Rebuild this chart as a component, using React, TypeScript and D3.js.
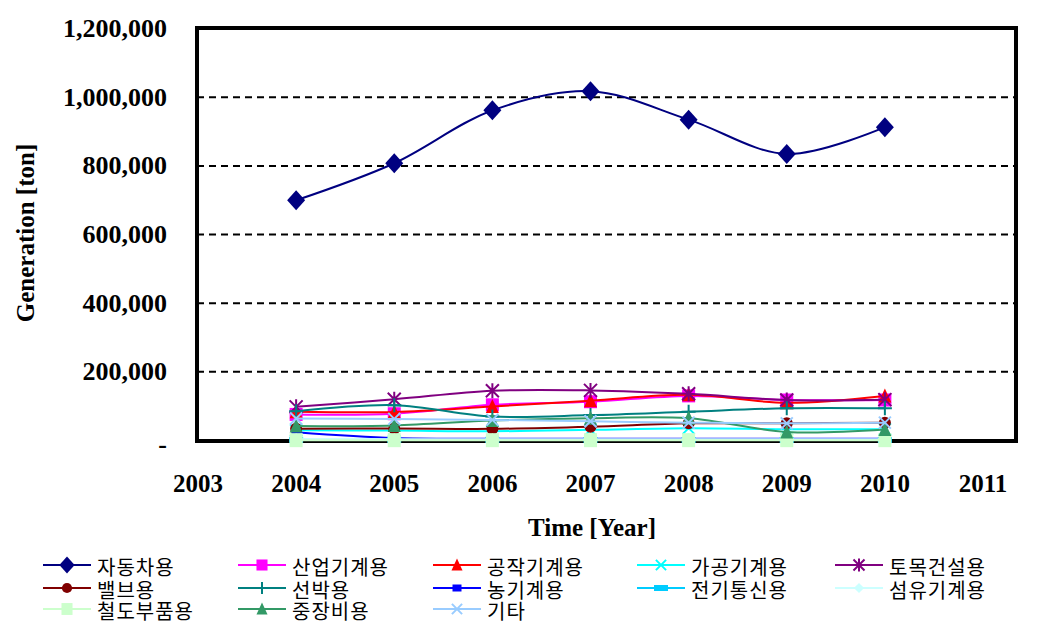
import React, { useEffect } from "react";
import * as d3 from "d3";

const years = [2004, 2005, 2006, 2007, 2008, 2009, 2010];
const xTicks = [2003, 2004, 2005, 2006, 2007, 2008, 2009, 2010, 2011];
const yTicks = [0, 200000, 400000, 600000, 800000, 1000000, 1200000];
const yTickLabels = ["-", "200,000", "400,000", "600,000", "800,000", "1,000,000", "1,200,000"];

const automotive = [700000, 808000, 962000, 1018000, 935000, 835000, 913000];
const industrialMachinery = [76000, 78000, 104000, 113000, 130000, 118000, 118000];
const machineTools = [84000, 83000, 99000, 116000, 133000, 110000, 130000];
const processingMachinery = [30000, 29000, 27000, 31000, 36000, 33000, 33000];
const civilConstruction = [98000, 120000, 145000, 146000, 136000, 118000, 119000];
const valves = [34000, 35000, 34000, 40000, 50000, 50000, 52000];
const ships = [85000, 103000, 70000, 74000, 84000, 94000, 94000];
const agriculturalMachinery = [24000, 7000, 5000, 5000, 5000, 5000, 5000];
const telecom = [2000, 2000, 1500, 1500, 1500, 1500, 1500];
const textileMachinery = [4000, 4000, 3500, 3500, 3500, 3500, 3500];
const railwayParts = [1000, 1000, 1000, 1000, 1000, 1000, 1000];
const heavyEquipment = [42000, 44000, 58000, 65000, 65000, 25000, 32000];
const others = [64000, 63000, 60000, 56000, 52000, 50000, 52000];

const seriesNames = [
  "자동차용", "산업기계용", "공작기계용", "가공기계용", "토목건설용",
  "밸브용", "선박용", "농기계용", "전기통신용", "섬유기계용",
  "철도부품용", "중장비용", "기타",
];
const seriesValues = [
  automotive, industrialMachinery, machineTools, processingMachinery, civilConstruction,
  valves, ships, agriculturalMachinery, telecom, textileMachinery,
  railwayParts, heavyEquipment, others,
];
const seriesColors = [
  "#000080", "#FF00FF", "#FF0000", "#00FFFF", "#800080",
  "#800000", "#008080", "#0000FF", "#00CCFF", "#CCFFFF",
  "#CCFFCC", "#339966", "#99CCFF",
];
const seriesMarkers = [
  "diamond", "square", "triangle", "x", "asterisk",
  "circle", "plus", "smallRect", "bar", "diamondSmall",
  "squareTall", "triangle", "x",
];

const W = 1050, H = 632;
const frame = { left: 197, top: 28, right: 1016, bottom: 441 };

const x = d3.scaleLinear().domain([2003, 2011]).range([198, 983]);
const y = d3.scaleLinear().domain([0, 1200000]).range([440.5, 28.7]);

function Marker({ type, cx, cy, color, big }: { type: string; cx: number; cy: number; color: string; big?: boolean }) {
  const s = big ? 1 : 0.85;
  switch (type) {
    case "diamond": {
      const a = 9 * s, b = 10 * s;
      return <path d={`M${cx},${cy - b}L${cx + a},${cy}L${cx},${cy + b}L${cx - a},${cy}Z`} fill={color} />;
    }
    case "diamondSmall": {
      const a = 6 * s;
      return <path d={`M${cx},${cy - a}L${cx + a},${cy}L${cx},${cy + a}L${cx - a},${cy}Z`} fill={color} />;
    }
    case "square": {
      const a = 6.5 * s;
      return <rect x={cx - a} y={cy - a} width={2 * a} height={2 * a} fill={color} />;
    }
    case "squareTall": {
      const a = 6.5 * s, b = 7 * s;
      return <rect x={cx - a} y={cy - b} width={2 * a} height={2 * b} fill={color} />;
    }
    case "triangle": {
      const a = 6.5 * s;
      return <path d={`M${cx},${cy - a - 1}L${cx + a},${cy + a}L${cx - a},${cy + a}Z`} fill={color} />;
    }
    case "circle":
      return <circle cx={cx} cy={cy} r={6 * s} fill={color} />;
    case "x": {
      const a = 6 * s;
      return (
        <path d={`M${cx - a},${cy - a}L${cx + a},${cy + a}M${cx - a},${cy + a}L${cx + a},${cy - a}`} stroke={color} strokeWidth={2} fill="none" />
      );
    }
    case "asterisk": {
      const a = 6.5 * s;
      return (
        <path
          d={`M${cx - a},${cy - a}L${cx + a},${cy + a}M${cx - a},${cy + a}L${cx + a},${cy - a}M${cx},${cy - a - 1}L${cx},${cy + a + 1}`}
          stroke={color} strokeWidth={2} fill="none"
        />
      );
    }
    case "plus": {
      const a = 7 * s;
      return (
        <path d={`M${cx - a},${cy}L${cx + a},${cy}M${cx},${cy - a}L${cx},${cy + a}`} stroke={color} strokeWidth={2} fill="none" />
      );
    }
    case "smallRect":
      return <rect x={cx - 4.5} y={cy - 3.5} width={9} height={7} fill={color} />;
    case "bar":
      return <rect x={cx - 7} y={cy - 3} width={14} height={6} fill={color} />;
    default:
      return null;
  }
}

const legendCols = [43, 238, 433, 637, 835];
const legendRows = [565, 588, 609];

export default function App() {
  useEffect(() => {
    document.body.style.margin = "0";
  }, []);

  const line = d3
    .line<number>()
    .x((_, i) => x(years[i]))
    .y((d) => y(d))
    .curve(d3.curveCatmullRom.alpha(0.5));

  const serif = "'Liberation Serif', 'Times New Roman', serif";
  const kr = "'Noto Sans CJK KR', sans-serif";

  return (
    <svg width={W} height={H} style={{ display: "block", background: "#fff" }}>
      {/* gridlines */}
      {yTicks.filter((t) => t > 0 && t < 1200000).map((t) => (
        <line key={t} x1={frame.left} x2={frame.right} y1={y(t)} y2={y(t)} stroke="#000" strokeWidth={2} strokeDasharray="7,5" />
      ))}
      {/* frame */}
      <rect x={frame.left} y={frame.top} width={frame.right - frame.left} height={frame.bottom - frame.top} fill="none" stroke="#000" strokeWidth={4} />

      {/* y tick labels */}
      {yTicks.map((t, i) => (
        <text key={t} x={167} y={i === 0 ? y(t) + 4 : y(t)} textAnchor="end" dominantBaseline="central" fontFamily={serif} fontWeight="bold" fontSize={26}>
          {yTickLabels[i]}
        </text>
      ))}
      {/* x tick labels */}
      {xTicks.map((t) => (
        <text key={t} x={x(t)} y={492} textAnchor="middle" fontFamily={serif} fontWeight="bold" fontSize={25}>
          {t}
        </text>
      ))}
      {/* axis titles */}
      <text transform="translate(34,233) rotate(-90)" textAnchor="middle" fontFamily={serif} fontWeight="bold" fontSize={25}>
        Generation [ton]
      </text>
      <text x={592} y={536} textAnchor="middle" fontFamily={serif} fontWeight="bold" fontSize={25}>
        Time [Year]
      </text>

      {/* series */}
      {seriesValues.map((vals, si) => (
        <g key={seriesNames[si]}>
          <path d={line(vals) || ""} fill="none" stroke={seriesColors[si]} strokeWidth={2} />
          {vals.map((v, i) => (
            <Marker key={i} type={seriesMarkers[si]} cx={x(years[i])} cy={y(v)} color={seriesColors[si]} big />
          ))}
        </g>
      ))}

      {/* legend */}
      {seriesNames.map((name, si) => {
        const col = si % 5;
        const row = Math.floor(si / 5);
        const lx = legendCols[col];
        const ly = legendRows[row];
        return (
          <g key={name}>
            <line x1={lx} x2={lx + 48} y1={ly} y2={ly} stroke={seriesColors[si]} strokeWidth={2} />
            <Marker type={seriesMarkers[si]} cx={lx + 24} cy={ly} color={seriesColors[si]} />
            <text x={lx + 54} y={ly + 1} dominantBaseline="central" fontFamily={kr} fontSize={20} letterSpacing={1}>
              {name}
            </text>
          </g>
        );
      })}
    </svg>
  );
}
